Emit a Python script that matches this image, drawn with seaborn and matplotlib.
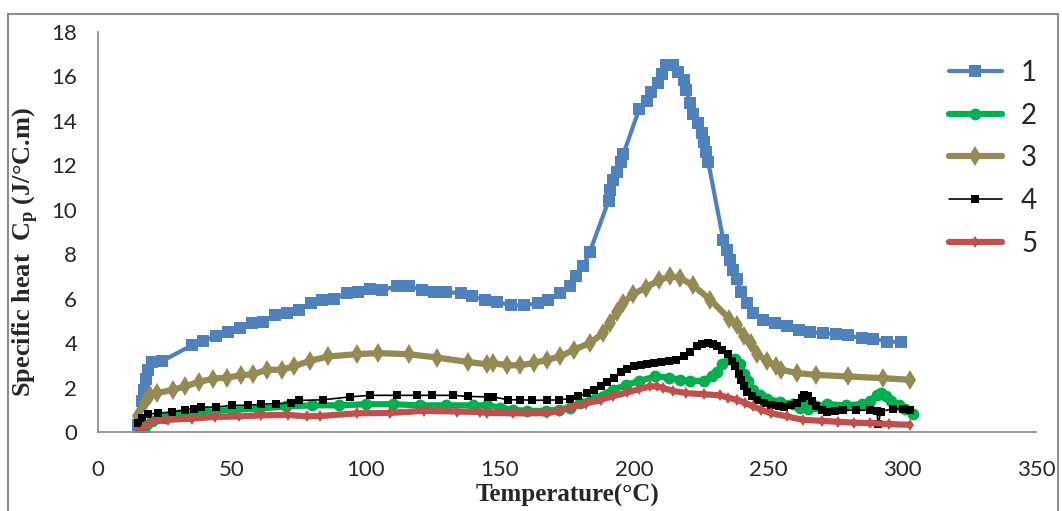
import matplotlib
matplotlib.use("Agg")
import matplotlib.pyplot as plt
import matplotlib.patches as mpatches
import seaborn as sns
import pandas as pd

# ---------------- data ----------------
x1 = [15, 16.3, 17.3, 17.8, 18.5, 20, 24, 35, 39, 44, 48.5, 53, 57.5, 61.5, 66, 70.5, 75, 79.5, 83.5, 88,
      93, 97, 101.5, 106, 111.5, 116, 121, 125.5, 130, 135.5, 139.5, 144.5, 149, 154, 159, 164, 168, 172.5,
      176, 178.5, 181, 183.5, 190.5, 191, 192.3, 193.5, 195, 196, 202, 205, 206.5, 209, 210.5, 212, 214.5,
      216.5, 218.5, 219.5, 221, 222, 224, 225.3, 226, 227, 227.7, 233.3, 234.6, 235.8, 237, 238.3, 240,
      242, 244.5, 248, 252.5, 257, 261.5, 265.5, 270.5, 275.5, 280, 285, 289, 294.5, 299.5]
y1 = [0.3, 1.4, 1.9, 2.4, 2.8, 3.15, 3.2, 3.9, 4.1, 4.3, 4.5, 4.7, 4.9, 4.95, 5.25, 5.35, 5.5, 5.8, 5.95, 6.0,
      6.25, 6.3, 6.45, 6.4, 6.55, 6.55, 6.4, 6.3, 6.3, 6.25, 6.1, 5.95, 5.85, 5.7, 5.7, 5.8, 5.95, 6.25,
      6.55, 7.0, 7.45, 8.1, 10.4, 10.9, 11.35, 11.7, 12.15, 12.5, 14.55, 14.9, 15.3, 15.7, 16.1, 16.5, 16.5,
      16.2, 15.85, 15.4, 14.8, 14.3, 13.9, 13.45, 13.05, 12.6, 12.15, 8.65, 8.2, 7.75, 7.3, 6.9, 6.3,
      5.8, 5.35, 5.05, 4.9, 4.75, 4.6, 4.5, 4.45, 4.4, 4.35, 4.22, 4.2, 4.07, 4.05]

x2 = [17, 18, 20, 25, 30, 40, 50, 60, 70, 80, 90, 100, 110, 120, 130, 140, 145, 150, 155, 160, 167, 172,
      176, 180, 186, 192, 197, 202, 208, 213, 217, 221, 226, 229, 231, 233, 235.5, 237.5, 239.5, 241,
      242.5, 244.5, 247, 249.5, 254.5, 259.5, 262, 263.8, 265, 268, 272, 279, 285, 288, 290.5, 292, 294,
      296, 299, 301, 304]
y2 = [0.0, 0.3, 0.5, 0.65, 0.75, 0.9, 1.0, 1.05, 1.15, 1.2, 1.2, 1.25, 1.25, 1.2, 1.2, 1.2, 1.2, 1.1, 1.0,
      0.95, 0.95, 1.0, 1.1, 1.3, 1.55, 1.9, 2.1, 2.3, 2.5, 2.45, 2.35, 2.3, 2.3, 2.5, 2.7, 3.05, 3.3, 3.3,
      3.05, 2.6, 2.3, 1.9, 1.65, 1.5, 1.35, 1.25, 1.1, 1.25, 1.05, 1.15, 1.25, 1.2, 1.25, 1.4, 1.65, 1.75,
      1.6, 1.4, 1.2, 1.05, 0.8]

x3 = [15, 17.5, 19.5, 22, 28, 32.5, 37.5, 43, 48, 53.5, 58, 63, 68.5, 73, 79, 86, 96.5, 104.5, 116, 126.5,
      138, 145, 147.5, 152.5, 157.5, 162.5, 167.5, 172.5, 177.5, 183.5, 188.5, 191, 193.5, 196, 199.5,
      204.5, 209.5, 213.5, 217, 222, 228.5, 235.5, 238.5, 241, 243.5, 246, 249.5, 253, 255, 261, 268, 280,
      293, 303]
y3 = [0.7, 1.35, 1.65, 1.75, 1.9, 2.05, 2.25, 2.4, 2.45, 2.55, 2.6, 2.8, 2.8, 2.95, 3.2, 3.4, 3.5, 3.55, 3.5,
      3.35, 3.15, 3.05, 3.1, 3.0, 3.0, 3.1, 3.25, 3.4, 3.7, 4.0, 4.45, 4.9, 5.4, 5.8, 6.2, 6.5, 6.85, 7.0,
      6.95, 6.6, 5.95, 5.1, 4.8, 4.3, 4.0, 3.5, 3.2, 2.95, 2.8, 2.65, 2.57, 2.5, 2.42, 2.35]

x4 = [15, 16.5, 18.5, 22.5, 27.5, 32.5, 36, 38.5, 44, 50, 56, 61, 66.5, 72, 75, 84, 94, 101.5, 111.5, 119,
      124.5, 132.5, 138, 145.5, 147.5, 153, 157.5, 162, 167.5, 172, 176, 179, 182.5, 185, 187.5, 190,
      192.5, 195, 197.5, 200, 202.5, 205, 207.5, 210, 213, 215.5, 218.5, 221, 223.5, 225.5, 227.5, 229.5,
      231, 233, 235, 236.5, 237.8, 239, 239.8, 241, 242, 244, 246, 248.5, 251, 254, 256, 258.5, 261,
      262.5, 263.5, 265, 266.5, 268, 270, 272, 275, 278, 283, 288, 290.5, 291.2, 292, 296.8, 300.5, 303]
y4 = [0.4, 0.65, 0.8, 0.85, 0.9, 1.0, 1.05, 1.12, 1.12, 1.2, 1.2, 1.25, 1.28, 1.3, 1.42, 1.45, 1.58, 1.65,
      1.65, 1.65, 1.65, 1.65, 1.6, 1.58, 1.58, 1.45, 1.45, 1.43, 1.43, 1.45, 1.5, 1.6, 1.75, 1.9, 2.05,
      2.25, 2.45, 2.7, 2.85, 2.95, 3.0, 3.05, 3.1, 3.15, 3.18, 3.25, 3.4, 3.6, 3.85, 3.95, 4.0, 3.95,
      3.85, 3.7, 3.5, 3.2, 2.95, 2.6, 2.35, 2.05, 1.8, 1.6, 1.45, 1.3, 1.2, 1.15, 1.13, 1.2, 1.3,
      1.55, 1.65, 1.6, 1.4, 1.15, 1.0, 0.92, 0.95, 0.98, 0.98, 0.98, 0.95, 0.35, 0.92, 1.05, 1.05, 1.0]

x5 = [15, 17.5, 20, 26, 35, 43.5, 52.5, 61, 71, 78, 83, 96.5, 109, 121.5, 134, 142.5, 145, 155, 167.5, 172,
      177.5, 182, 187.5, 192, 197.5, 202, 206, 208.5, 211, 214.5, 219.5, 226, 232, 235, 238.5, 241.5,
      244.5, 247.5, 251, 257, 263, 270, 276, 282, 288, 295, 303]
y5 = [-0.05, 0.25, 0.45, 0.55, 0.6, 0.68, 0.7, 0.75, 0.77, 0.7, 0.72, 0.84, 0.86, 0.95, 0.92, 0.9, 0.86,
      0.84, 0.85, 0.95, 1.12, 1.28, 1.45, 1.6, 1.78, 1.93, 2.05, 2.05, 1.98, 1.85, 1.75, 1.7, 1.65, 1.55,
      1.45, 1.3, 1.15, 1.0, 0.85, 0.7, 0.55, 0.5, 0.46, 0.42, 0.4, 0.36, 0.32]

series_labels = ["1", "2", "3", "4", "5"]
x_ticks = [0, 50, 100, 150, 200, 250, 300, 350]
y_ticks = [0, 2, 4, 6, 8, 10, 12, 14, 16, 18]
x_title = "Temperature(°C)"
y_title = r"Specific heat  C$_{\mathrm{p}}$ (J/°C.m)"

# ---------------- styling ----------------
sns.set_theme(style="white")
plt.rcParams["font.family"] = ["Lato", "DejaVu Sans"]
plt.rcParams["mathtext.fontset"] = "custom"
plt.rcParams["mathtext.rm"] = "Liberation Serif:bold"
plt.rcParams["mathtext.it"] = "Liberation Serif:bold"
plt.rcParams["mathtext.bf"] = "Liberation Serif:bold"

fig = plt.figure(figsize=(10.62, 5.11), dpi=100)
ax = fig.add_axes([98 / 1062, 1 - 432 / 511, (1036 - 98) / 1062, (432 - 32) / 511])

styles = [
    dict(color="#4F81BD", marker="s", ms=8, lw=3.0, mew=0),
    dict(color="#00B050", marker="o", ms=8.5, lw=4.5, mew=0),
    dict(color="#948A54", marker="d", ms=10, lw=4.5, mew=0),
    dict(color="#000000", marker="s", ms=5.5, lw=1.2, mew=0),
    dict(color="#C0504D", marker="d", ms=6, lw=4.5, mew=0),
]
xs = [x1, x2, x3, x4, x5]
ys = [y1, y2, y3, y4, y5]

for xv, yv, lab, st in zip(xs, ys, series_labels, styles):
    df = pd.DataFrame({"T": xv, "Cp": yv})
    sns.lineplot(data=df, x="T", y="Cp", ax=ax, sort=False, estimator=None,
                 color=st["color"], marker=st["marker"], markersize=st["ms"],
                 linewidth=st["lw"], markeredgewidth=st["mew"], label=lab)

ax.set_xlim(0, 350)
ax.set_ylim(0, 18)
ax.set_xticks(x_ticks)
ax.set_yticks(y_ticks)
ax.tick_params(axis="both", which="major", direction="out", length=6, width=1,
               color="#868686", labelsize=16, labelcolor="#262626")
ax.tick_params(axis="y", pad=9)
ax.tick_params(axis="x", pad=14)
for s in ["top", "right"]:
    ax.spines[s].set_visible(False)
for s in ["left", "bottom"]:
    ax.spines[s].set_color("#868686")
    ax.spines[s].set_linewidth(1.2)

ax.set_xlabel(x_title, fontfamily="Liberation Serif", fontweight="bold", fontsize=18)
ax.set_ylabel(y_title, fontfamily="Liberation Serif", fontweight="bold", fontsize=19)
ax.xaxis.set_label_coords(0.5, -0.13)
ax.yaxis.set_label_coords(-(98 - 41) / 938, 0.45)

leg = ax.legend(loc="upper left", bbox_to_anchor=(935 / 1062, 1 - 46 / 511),
                bbox_transform=fig.transFigure, frameon=False, fontsize=20,
                handlelength=1.9, handletextpad=0.7, labelspacing=0.6, borderpad=0)

# outer chart frame
fig.add_artist(mpatches.Rectangle((8 / 1062, -0.05), (1058 - 8) / 1062, 1.05 - 14 / 511,
                                  transform=fig.transFigure, fill=False,
                                  edgecolor="#8c8c8c", linewidth=1.5))

fig.savefig("out.png", dpi=100)
